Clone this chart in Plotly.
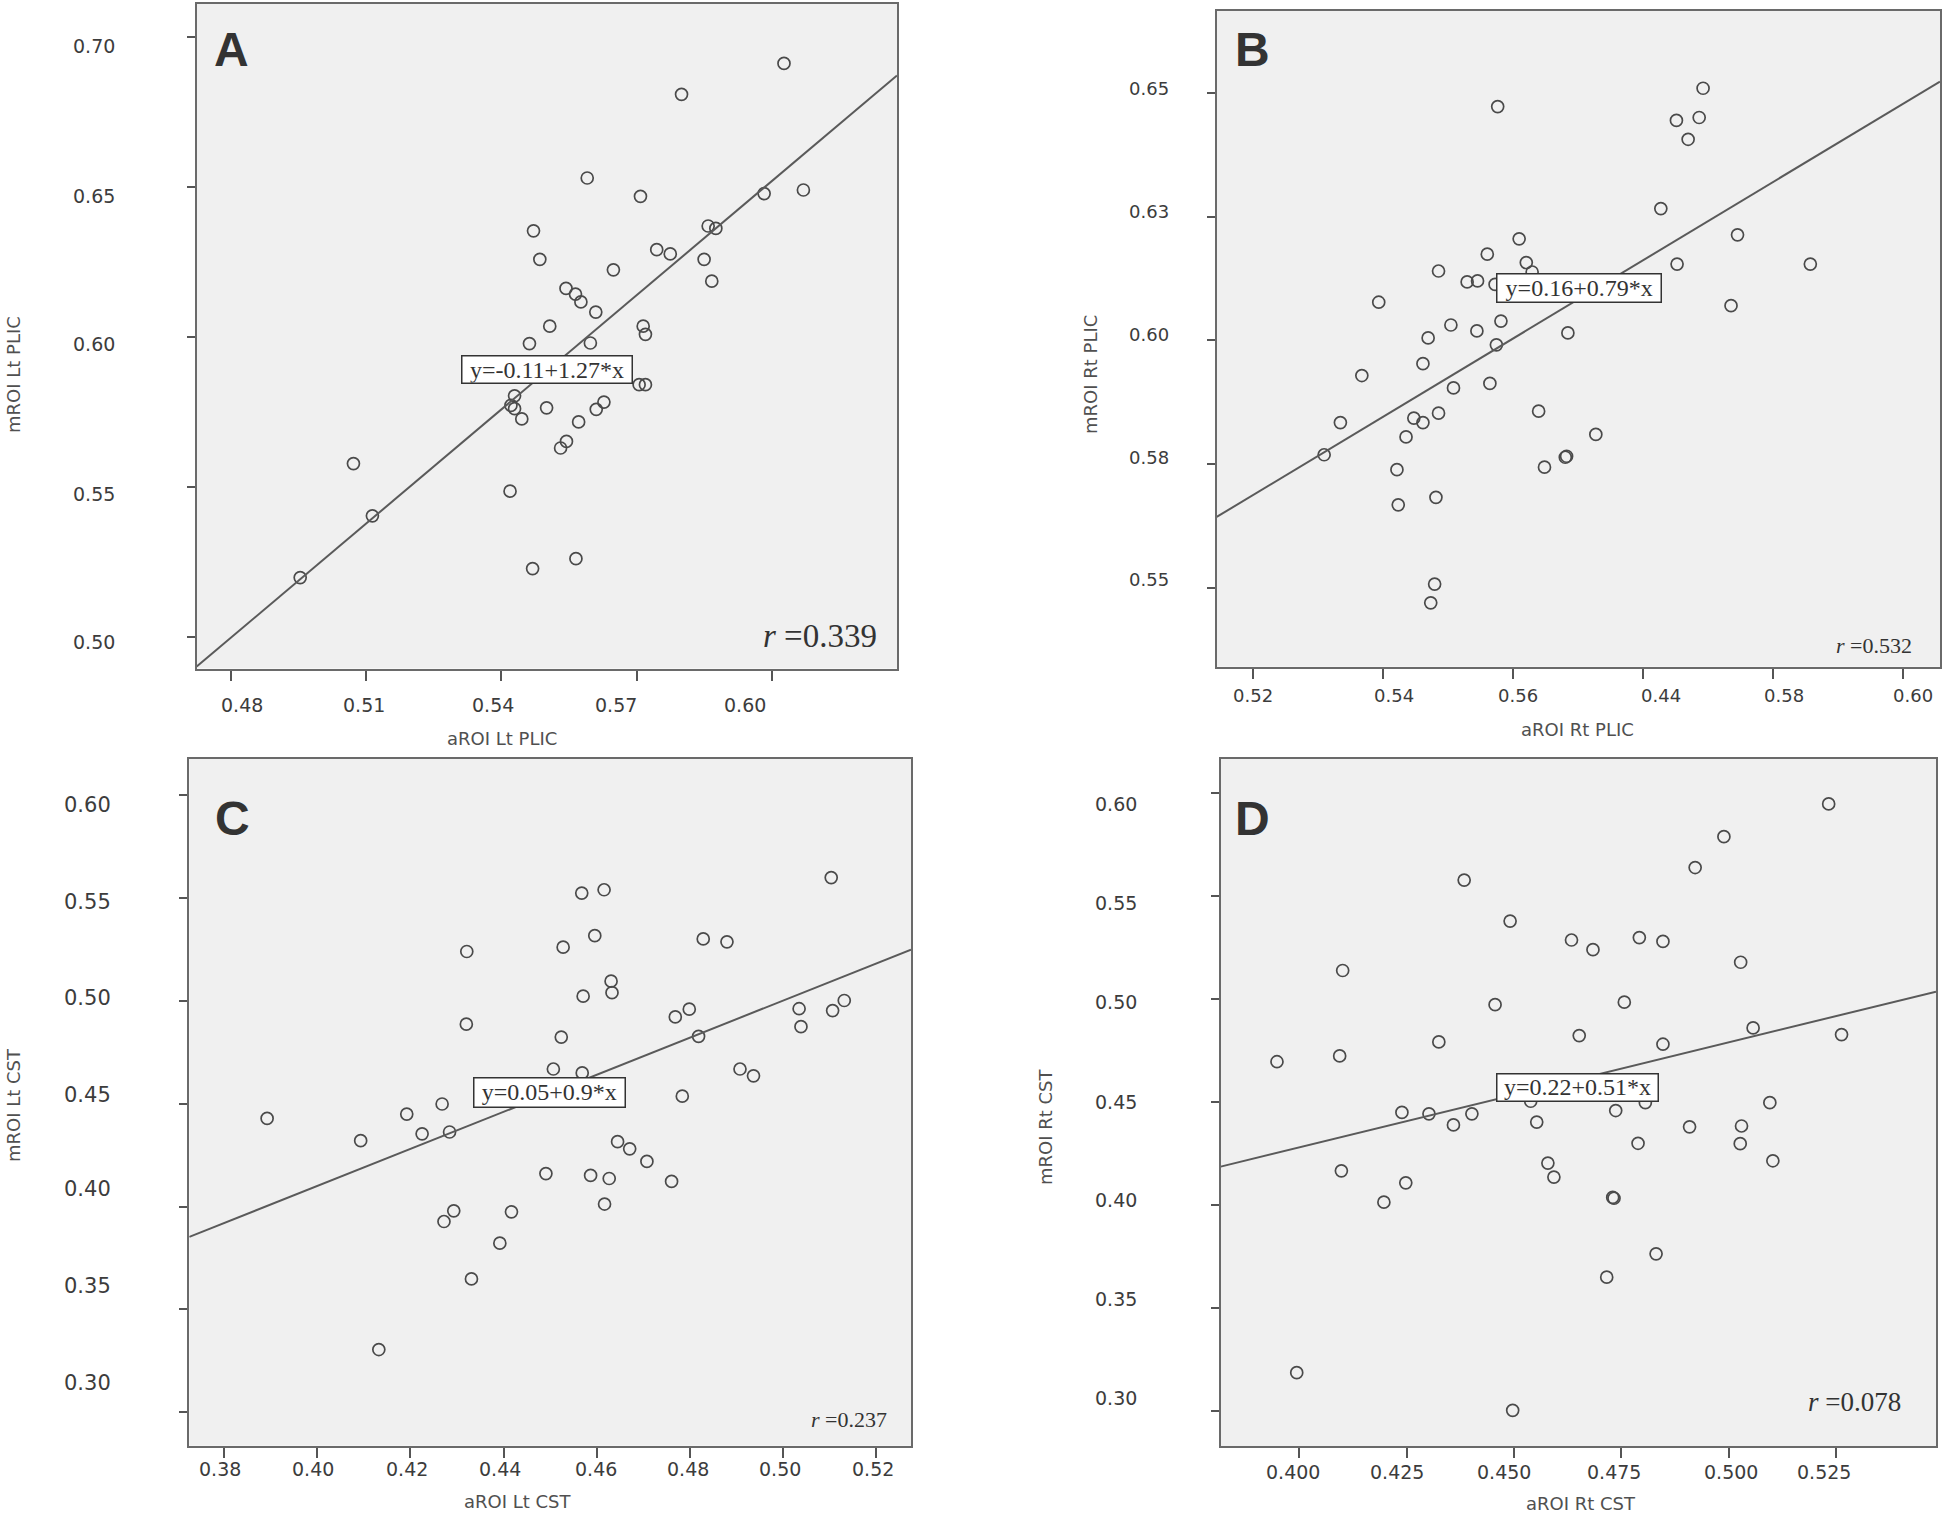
import plotly.graph_objects as go

W, H = 1946, 1515

# ---------------- data ----------------
a_x = [0.6026, 0.5799, 0.5590, 0.5708, 0.5982, 0.6069, 0.5471, 0.5858, 0.5875, 0.5485,
       0.5744, 0.5774, 0.5849, 0.5648, 0.5866, 0.5543, 0.5564, 0.5576, 0.5609, 0.5507,
       0.5714, 0.5719, 0.5462, 0.5597, 0.5705, 0.5719, 0.5429, 0.5421, 0.5429, 0.5445,
       0.5500, 0.5627, 0.5610, 0.5571, 0.5544, 0.5531, 0.5072, 0.5114, 0.5419, 0.4954,
       0.5469, 0.5565]
a_y = [0.6911, 0.6808, 0.6529, 0.6468, 0.6477, 0.6489, 0.6353, 0.6369, 0.6361, 0.6258,
       0.6290, 0.6276, 0.6258, 0.6223, 0.6185, 0.6161, 0.6142, 0.6116, 0.6082, 0.6035,
       0.6035, 0.6008, 0.5977, 0.5979, 0.5840, 0.5840, 0.5803, 0.5771, 0.5760, 0.5726,
       0.5763, 0.5782, 0.5758, 0.5716, 0.5651, 0.5629, 0.5577, 0.5403, 0.5485, 0.5197,
       0.5227, 0.5260]

b_x = [0.5892, 0.5576, 0.5851, 0.5886, 0.5869, 0.5827, 0.5945, 0.5852, 0.6057, 0.5935,
       0.5609, 0.5560, 0.5620, 0.5629, 0.5485, 0.5529, 0.5545, 0.5572, 0.5393, 0.5581,
       0.5504, 0.5544, 0.5684, 0.5469, 0.5574, 0.5461, 0.5367, 0.5508, 0.5564, 0.5485,
       0.5447, 0.5461, 0.5639, 0.5334, 0.5435, 0.5727, 0.5309, 0.5680, 0.5682, 0.5648,
       0.5421, 0.5481, 0.5423, 0.5479, 0.5473]
b_y = [0.6509, 0.6472, 0.6444, 0.6450, 0.6406, 0.6266, 0.6213, 0.6154, 0.6154, 0.6070,
       0.6205, 0.6174, 0.6157, 0.6138, 0.6140, 0.6118, 0.6120, 0.6113, 0.6077, 0.6039,
       0.6031, 0.6019, 0.6015, 0.6005, 0.5991, 0.5953, 0.5929, 0.5904, 0.5913, 0.5853,
       0.5843, 0.5834, 0.5857, 0.5834, 0.5805, 0.5810, 0.5769, 0.5764, 0.5766, 0.5744,
       0.5739, 0.5683, 0.5668, 0.5508, 0.5470]

c_x = [0.5104, 0.4568, 0.4616, 0.4596, 0.4528, 0.4321, 0.4829, 0.4880, 0.4631, 0.4633,
       0.4571, 0.4769, 0.4799, 0.5035, 0.5039, 0.5107, 0.5132, 0.4320, 0.4524, 0.4819,
       0.4507, 0.4569, 0.4908, 0.4937, 0.4784, 0.4268, 0.3892, 0.4192, 0.4093, 0.4225,
       0.4284, 0.4645, 0.4671, 0.4708, 0.4491, 0.4587, 0.4627, 0.4761, 0.4617, 0.4272,
       0.4293, 0.4417, 0.4392, 0.4331, 0.4132]
c_y = [0.5598, 0.5523, 0.5539, 0.5316, 0.5260, 0.5239, 0.5300, 0.5286, 0.5095, 0.5039,
       0.5022, 0.4921, 0.4959, 0.4961, 0.4874, 0.4952, 0.5001, 0.4886, 0.4823, 0.4827,
       0.4668, 0.4649, 0.4668, 0.4635, 0.4536, 0.4498, 0.4428, 0.4449, 0.4320, 0.4353,
       0.4362, 0.4315, 0.4280, 0.4219, 0.4160, 0.4151, 0.4136, 0.4122, 0.4012, 0.3927,
       0.3979, 0.3974, 0.3822, 0.3648, 0.3305]

d_x = [0.5233, 0.4989, 0.4922, 0.4384, 0.4491, 0.4634, 0.4684, 0.4792, 0.4847, 0.5028,
       0.4101, 0.4456, 0.4757, 0.5057, 0.4652, 0.5263, 0.4325, 0.4847, 0.3948, 0.4094,
       0.4539, 0.4737, 0.4806, 0.5096, 0.4239, 0.4302, 0.4402, 0.4359, 0.4553, 0.4909,
       0.5030, 0.4789, 0.5027, 0.5103, 0.4579, 0.4593, 0.4098, 0.4248, 0.4197, 0.4730,
       0.4733, 0.4831, 0.4716, 0.3994, 0.4497]
d_y = [0.5948, 0.5789, 0.5639, 0.5578, 0.5379, 0.5287, 0.5240, 0.5299, 0.5280, 0.5179,
       0.5139, 0.4973, 0.4985, 0.4860, 0.4823, 0.4828, 0.4792, 0.4781, 0.4696, 0.4724,
       0.4504, 0.4459, 0.4497, 0.4497, 0.4450, 0.4443, 0.4443, 0.4389, 0.4403, 0.4380,
       0.4384, 0.4300, 0.4298, 0.4215, 0.4204, 0.4136, 0.4166, 0.4108, 0.4014, 0.4037,
       0.4033, 0.3763, 0.3650, 0.3186, 0.3003]

# tick values and tick labels
a_xticks = [0.48, 0.51, 0.54, 0.57, 0.60]
a_xlabels = ["0.48", "0.51", "0.54", "0.57", "0.60"]
a_yticks = [0.50, 0.55, 0.60, 0.65, 0.70]
a_ylabels = ["0.50", "0.55", "0.60", "0.65", "0.70"]

b_xticks = [0.52, 0.54, 0.56, 0.58, 0.60, 0.62]
b_xlabels = ["0.52", "0.54", "0.56", "0.44", "0.58", "0.60"]
b_yticks = [0.55, 0.575, 0.60, 0.625, 0.65]
b_ylabels = ["0.55", "0.58", "0.60", "0.63", "0.65"]

c_xticks = [0.38, 0.40, 0.42, 0.44, 0.46, 0.48, 0.50, 0.52]
c_xlabels = ["0.38", "0.40", "0.42", "0.44", "0.46", "0.48", "0.50", "0.52"]
c_yticks = [0.30, 0.35, 0.40, 0.45, 0.50, 0.55, 0.60]
c_ylabels = ["0.30", "0.35", "0.40", "0.45", "0.50", "0.55", "0.60"]

d_xticks = [0.400, 0.425, 0.450, 0.475, 0.500, 0.525]
d_xlabels = ["0.400", "0.425", "0.450", "0.475", "0.500", "0.525"]
d_yticks = [0.30, 0.35, 0.40, 0.45, 0.50, 0.55, 0.60]
d_ylabels = ["0.30", "0.35", "0.40", "0.45", "0.50", "0.55", "0.60"]

# regression lines (intercept, slope)
fit_a = [-0.11, 1.27]
fit_b = [0.158, 0.79]
fit_c = [0.05, 0.90]
fit_d = [0.224, 0.51]

eq_a, eq_b, eq_c, eq_d = "y=-0.11+1.27*x", "y=0.16+0.79*x", "y=0.05+0.9*x", "y=0.22+0.51*x"
r_a, r_b, r_c, r_d = "0.339", "0.532", "0.237", "0.078"

# ---------------- layout helpers ----------------
def px(x):
    return x / W


def py(y):
    return 1 - y / H


panels = [
    dict(letter="A", x=a_x, y=a_y, fit=fit_a, eq=eq_a, r=r_a,
         xt=a_xticks, xl=a_xlabels, yt=a_yticks, yl=a_ylabels,
         frame=(196.7, 897.0, 4.0, 668.5), xr=[0.47247, 0.62764], yr=[0.4894, 0.7109],
         xlab_px=[242, 364, 493, 616, 745], xlab_y=705, xlab_size=19,
         ylab_py=[642.2, 493.5, 343.8, 195.6, 45.9], ylab_x=117, ylab_size=19,
         xtitle="aROI Lt PLIC", xtitle_pos=(502, 738),
         ytitle="mROI Lt PLIC", ytitle_pos=(13, 375),
         letter_pos=(231.5, 49.5),
         box=(460.7, 632.7, 355, 384),
         rpos=(820, 636), rsize=33),
    dict(letter="B", x=b_x, y=b_y, fit=fit_b, eq=eq_b, r=r_b,
         xt=b_xticks, xl=b_xlabels, yt=b_yticks, yl=b_ylabels,
         frame=(1216.7, 1940.0, 11.0, 666.7), xr=[0.51437, 0.62565], yr=[0.53411, 0.66650],
         xlab_px=[1252.5, 1394, 1518, 1661, 1783.5, 1912.5], xlab_y=695.5, xlab_size=18,
         ylab_py=[579, 457, 334, 211.5, 88.5], ylab_x=1170.7, ylab_size=18,
         xtitle="aROI Rt PLIC", xtitle_pos=(1577, 729),
         ytitle="mROI Rt PLIC", ytitle_pos=(1090, 375),
         letter_pos=(1252, 49.5),
         box=(1495.5, 1661.8, 272.8, 303.2),
         rpos=(1873.5, 645.5), rsize=22),
    dict(letter="C", x=c_x, y=c_y, fit=fit_c, eq=eq_c, r=r_c,
         xt=c_xticks, xl=c_xlabels, yt=c_yticks, yl=c_ylabels,
         frame=(189.3, 911.0, 759.0, 1445.7), xr=[0.37248, 0.52754], yr=[0.28377, 0.61744],
         xlab_px=[219.5, 313.4, 406.5, 500.2, 595.7, 687.6, 780, 872.5], xlab_y=1469, xlab_size=19,
         ylab_py=[1382.5, 1286.2, 1189.2, 1095, 998.4, 901.9, 805.4], ylab_x=113, ylab_size=21,
         xtitle="aROI Lt CST", xtitle_pos=(518, 1501),
         ytitle="mROI Lt CST", ytitle_pos=(13, 1105),
         letter_pos=(232.5, 818.5),
         box=(472.9, 625.5, 1077.1, 1108),
         rpos=(848.6, 1419.7), rsize=22),
    dict(letter="D", x=d_x, y=d_y, fit=fit_d, eq=eq_d, r=r_d,
         xt=d_xticks, xl=d_xlabels, yt=d_yticks, yl=d_ylabels,
         frame=(1220.7, 1936.0, 759.0, 1446.0), xr=[0.38169, 0.54830], yr=[0.2830, 0.6166],
         xlab_px=[1292.6, 1396.9, 1503.6, 1614, 1731, 1824.4], xlab_y=1472, xlab_size=19,
         ylab_py=[1398.2, 1299.3, 1200.3, 1101.8, 1002.3, 902.8, 803.8], ylab_x=1139, ylab_size=19,
         xtitle="aROI Rt CST", xtitle_pos=(1581, 1503),
         ytitle="mROI Rt CST", ytitle_pos=(1045, 1127),
         letter_pos=(1252.5, 818.5),
         box=(1495.5, 1658.7, 1073.3, 1102.2),
         rpos=(1854, 1401.6), rsize=27),
]

TICKFONT = "DejaVu Sans"
TICKCOL = "#3c3c3c"
TITLECOL = "#505050"
FRAMECOL = "#6a6a6a"
PTCOL = "#4a4a4a"
LINECOL = "#5a5a5a"

fig = go.Figure()
layout = dict(
    width=W, height=H,
    margin=dict(l=0, r=0, t=0, b=0, pad=0),
    paper_bgcolor="white",
    plot_bgcolor="#f0f0f0",
    showlegend=False,
)
annotations = []

for i, p in enumerate(panels, start=1):
    sfx = "" if i == 1 else str(i)
    xa, ya = "x" + sfx, "y" + sfx
    l, r, t, b = p["frame"]

    fig.add_trace(go.Scatter(
        x=p["x"], y=p["y"], mode="markers", xaxis=xa, yaxis=ya,
        marker=dict(symbol="circle-open", size=12, color=PTCOL, line=dict(width=1.7, color=PTCOL)),
        hoverinfo="skip"))
    x0, x1 = p["xr"]
    b0, b1 = p["fit"]
    fig.add_trace(go.Scatter(
        x=[x0, x1], y=[b0 + b1 * x0, b0 + b1 * x1], mode="lines", xaxis=xa, yaxis=ya,
        line=dict(color=LINECOL, width=2), hoverinfo="skip"))

    common = dict(showgrid=False, zeroline=False, showline=True, mirror=True,
                  linecolor=FRAMECOL, linewidth=2, ticks="outside", tickwidth=2,
                  tickcolor="#555555", showticklabels=False, fixedrange=True)
    layout["xaxis" + sfx] = dict(common, domain=[px(l), px(r)], range=p["xr"],
                                 tickvals=p["xt"], ticklen=10, anchor=ya)
    layout["yaxis" + sfx] = dict(common, domain=[py(b), py(t)], range=p["yr"],
                                 tickvals=p["yt"], ticklen=8, anchor=xa)

    # tick labels (hand-placed like the original figure)
    for lab, xp in zip(p["xl"], p["xlab_px"]):
        annotations.append(dict(text=lab, x=px(xp), y=py(p["xlab_y"]), xref="paper", yref="paper",
                                xanchor="center", yanchor="middle", showarrow=False,
                                font=dict(family=TICKFONT, size=p["xlab_size"], color=TICKCOL)))
    for lab, yp in zip(p["yl"], p["ylab_py"]):
        annotations.append(dict(text=lab, x=px(p["ylab_x"]), y=py(yp), xref="paper", yref="paper",
                                xanchor="right", yanchor="middle", showarrow=False,
                                font=dict(family=TICKFONT, size=p["ylab_size"], color=TICKCOL)))
    # axis titles
    annotations.append(dict(text=p["xtitle"], x=px(p["xtitle_pos"][0]), y=py(p["xtitle_pos"][1]),
                            xref="paper", yref="paper", xanchor="center", yanchor="middle",
                            showarrow=False, font=dict(family=TICKFONT, size=18, color=TITLECOL)))
    annotations.append(dict(text=p["ytitle"], x=px(p["ytitle_pos"][0]), y=py(p["ytitle_pos"][1]),
                            xref="paper", yref="paper", xanchor="center", yanchor="middle",
                            textangle=-90, showarrow=False,
                            font=dict(family=TICKFONT, size=18, color=TITLECOL)))
    # panel letter
    annotations.append(dict(text="<b>%s</b>" % p["letter"], x=px(p["letter_pos"][0]),
                            y=py(p["letter_pos"][1]), xref="paper", yref="paper",
                            xanchor="center", yanchor="middle", showarrow=False,
                            font=dict(family="Liberation Sans", size=48, color="#333333")))
    # equation box
    bl, br, bt, bb = p["box"]
    annotations.append(dict(text=p["eq"], x=px((bl + br) / 2), y=py((bt + bb) / 2),
                            xref="paper", yref="paper", xanchor="center", yanchor="middle",
                            showarrow=False, bgcolor="white", bordercolor="#333333",
                            borderwidth=1.5, borderpad=0,
                            width=(br - bl) - 3, height=(bb - bt) - 3,
                            font=dict(family="Liberation Serif", size=24, color="#333333")))
    # correlation coefficient
    annotations.append(dict(text="<i>r</i> =" + p["r"], x=px(p["rpos"][0]), y=py(p["rpos"][1]),
                            xref="paper", yref="paper", xanchor="center", yanchor="middle",
                            showarrow=False,
                            font=dict(family="Liberation Serif", size=p["rsize"], color="#333333")))

layout["annotations"] = annotations
fig.update_layout(**layout)
fig.write_html(
    "out.html",
    config={"displayModeBar": False, "staticPlot": True},
    post_script="document.body.style.margin='0px';"
                "document.documentElement.style.overflow='hidden';"
                "document.body.style.overflow='hidden';",
)
